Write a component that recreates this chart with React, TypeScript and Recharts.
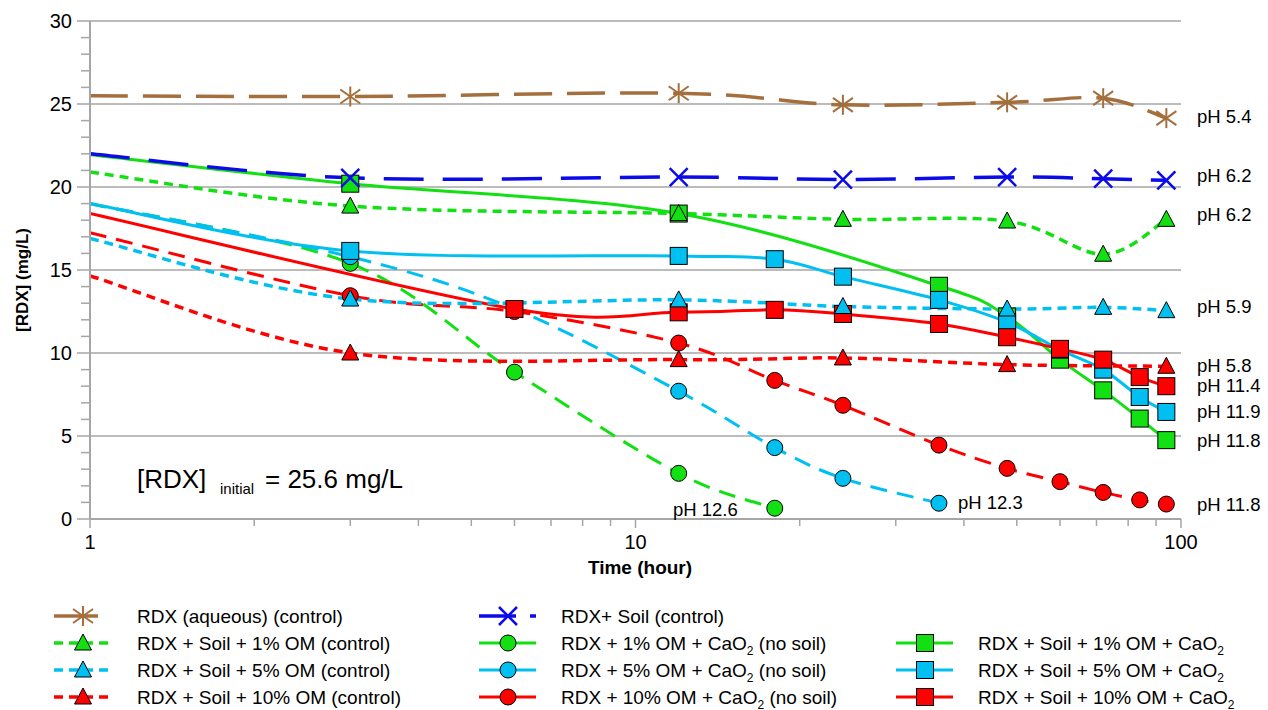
import React from "react";
import { LineChart, Line, XAxis, YAxis, CartesianGrid } from "recharts";

// time (hour) and [RDX] (mg/L) per treatment
const T_AQ = [1, 3, 12, 24, 48, 72, 94];
const RDX_AQ = [25.5, 25.45, 25.65, 24.95, 25.1, 25.35, 24.15];
const T_SOIL = [1, 3, 12, 24, 48, 72, 94];
const RDX_SOIL = [22.0, 20.55, 20.6, 20.45, 20.6, 20.5, 20.4];
const T_CTRL1 = [1, 3, 12, 24, 48, 72, 94];
const RDX_CTRL1 = [20.9, 18.85, 18.4, 18.05, 17.95, 15.95, 18.05];
const T_CTRL5 = [1, 3, 12, 24, 48, 72, 94];
const RDX_CTRL5 = [16.9, 13.25, 13.2, 12.8, 12.65, 12.75, 12.55];
const T_CTRL10 = [1, 3, 12, 24, 48, 94];
const RDX_CTRL10 = [14.65, 10.0, 9.6, 9.7, 9.3, 9.2];
const T_NS1 = [1, 3, 6, 12, 18];
const RDX_NS1 = [19.0, 15.4, 8.85, 2.75, 0.65];
const T_NS5 = [1, 3, 6, 12, 18, 24, 36];
const RDX_NS5 = [19.0, 15.8, 12.65, 7.7, 4.3, 2.45, 0.95];
const T_NS10 = [1, 3, 6, 12, 18, 24, 36, 48, 60, 72, 84, 94];
const RDX_NS10 = [17.25, 13.45, 12.5, 10.6, 8.35, 6.85, 4.45, 3.05, 2.25, 1.6, 1.15, 0.9];
const T_CA1 = [1, 3, 12, 36, 48, 60, 72, 84, 94];
const RDX_CA1 = [21.95, 20.2, 18.4, 14.05, 12.2, 9.6, 7.75, 6.05, 4.75];
const T_CA5 = [1, 3, 12, 18, 24, 36, 48, 60, 72, 84, 94];
const RDX_CA5 = [19.0, 16.15, 15.85, 15.65, 14.6, 13.2, 11.85, 10.2, 9.0, 7.35, 6.45];
const T_CA10 = [1, 6, 12, 18, 24, 36, 48, 60, 72, 84, 94];
const RDX_CA10 = [18.4, 12.65, 12.45, 12.6, 12.35, 11.75, 10.95, 10.25, 9.6, 8.55, 8.0];

const X_TICKS = [1, 2, 3, 4, 5, 6, 7, 8, 9, 10, 20, 30, 40, 50, 60, 70, 80, 90, 100];
const X_LABELS = [1, 10, 100];
const Y_TICKS = [0, 1, 2, 3, 4, 5, 6, 7, 8, 9, 10, 11, 12, 13, 14, 15, 16, 17, 18, 19, 20, 21, 22, 23, 24, 25, 26, 27, 28, 29, 30];
const Y_GRID = [5, 10, 15, 20, 25, 30];

const FONT = "'Liberation Sans', Arial, sans-serif";
const GRID = "#a6a6a6";
const BROWN = "#a46f3c";
const BLUE = "#0b0bea";
const GREEN = "#12e012";
const CYAN = "#00c0f2";
const RED = "#ff0000";

const zip = (t: number[], v: number[]) => t.map((x, i) => ({ t: x, y: v[i] }));

// Excel-like smoothed line (Catmull-Rom through the points)
const excelSmooth = (ctx: any) => {
  let pts: number[][] = [];
  return {
    areaStart() {},
    areaEnd() {},
    lineStart() {
      pts = [];
    },
    point(x: number, y: number) {
      pts.push([+x, +y]);
    },
    lineEnd() {
      const n = pts.length;
      if (!n) return;
      ctx.moveTo(pts[0][0], pts[0][1]);
      const k = 1 / 6;
      for (let i = 0; i < n - 1; i++) {
        const p0 = pts[i - 1] || pts[i];
        const p1 = pts[i];
        const p2 = pts[i + 1];
        const p3 = pts[i + 2] || p2;
        ctx.bezierCurveTo(
          p1[0] + (p2[0] - p0[0]) * k,
          p1[1] + (p2[1] - p0[1]) * k,
          p2[0] - (p3[0] - p1[0]) * k,
          p2[1] - (p3[1] - p1[1]) * k,
          p2[0],
          p2[1]
        );
      }
    },
  };
};

const Marker = ({ kind, cx, cy, color }: any) => {
  if (kind === "star")
    return (
      <g stroke={color} strokeWidth={2}>
        <line x1={cx} y1={cy - 10} x2={cx} y2={cy + 10} />
        <line x1={cx - 10} y1={cy - 7} x2={cx + 10} y2={cy + 7} />
        <line x1={cx - 10} y1={cy + 7} x2={cx + 10} y2={cy - 7} />
      </g>
    );
  if (kind === "x")
    return (
      <g stroke={color} strokeWidth={2.5}>
        <line x1={cx - 9} y1={cy - 9} x2={cx + 9} y2={cy + 9} />
        <line x1={cx - 9} y1={cy + 9} x2={cx + 9} y2={cy - 9} />
      </g>
    );
  if (kind === "tri")
    return (
      <polygon
        points={`${cx},${cy - 9} ${cx + 8.5},${cy + 7} ${cx - 8.5},${cy + 7}`}
        fill={color}
        stroke="#000"
        strokeWidth={1}
      />
    );
  if (kind === "circle") return <circle cx={cx} cy={cy} r={8} fill={color} stroke="#000" strokeWidth={1} />;
  return <rect x={cx - 8.5} y={cy - 8.5} width={17} height={17} fill={color} stroke="#000" strokeWidth={1} />;
};

const DOT = "9 6";
const MID = "17 10";

// drawing order follows the overlaps in the figure
const series = [
  { id: "ns1", t: T_NS1, v: RDX_NS1, color: GREEN, dash: MID, legDash: undefined, legLen: 57, w: 3, marker: "circle", label: "RDX + 1% OM + CaO2 (no soil)" },
  { id: "ns5", t: T_NS5, v: RDX_NS5, color: CYAN, dash: MID, legDash: undefined, legLen: 57, w: 3, marker: "circle", label: "RDX + 5% OM + CaO2 (no soil)" },
  { id: "ns10", t: T_NS10, v: RDX_NS10, color: RED, dash: MID, legDash: undefined, legLen: 57, w: 3, marker: "circle", label: "RDX + 10% OM + CaO2 (no soil)" },
  { id: "ca1", t: T_CA1, v: RDX_CA1, color: GREEN, dash: undefined, legDash: undefined, legLen: 57, w: 3, marker: "square", label: "RDX + Soil + 1% OM + CaO2" },
  { id: "ca5", t: T_CA5, v: RDX_CA5, color: CYAN, dash: undefined, legDash: undefined, legLen: 57, w: 3, marker: "square", label: "RDX + Soil + 5% OM + CaO2" },
  { id: "ca10", t: T_CA10, v: RDX_CA10, color: RED, dash: undefined, legDash: undefined, legLen: 57, w: 3, marker: "square", label: "RDX + Soil + 10% OM + CaO2" },
  { id: "c1", t: T_CTRL1, v: RDX_CTRL1, color: GREEN, dash: DOT, legDash: DOT, legLen: 57, w: 3.5, marker: "tri", label: "RDX + Soil + 1% OM (control)" },
  { id: "c5", t: T_CTRL5, v: RDX_CTRL5, color: CYAN, dash: DOT, legDash: DOT, legLen: 57, w: 3.5, marker: "tri", label: "RDX + Soil + 5% OM (control)" },
  { id: "c10", t: T_CTRL10, v: RDX_CTRL10, color: RED, dash: DOT, legDash: DOT, legLen: 57, w: 3.5, marker: "tri", label: "RDX + Soil + 10% OM (control)" },
  { id: "soil", t: T_SOIL, v: RDX_SOIL, color: BLUE, dash: "40 19", legDash: "37 14", legLen: 57, w: 3.5, marker: "x", label: "RDX+ Soil (control)" },
  { id: "aq", t: T_AQ, v: RDX_AQ, color: BROWN, dash: "38 15", legDash: undefined, legLen: 44, w: 3.5, marker: "star", label: "RDX (aqueous) (control)" },
];

// legend grid: [series id, column, row]
const LEGEND_SLOTS = [
  ["aq", 0, 0], ["soil", 1, 0],
  ["c1", 0, 1], ["ns1", 1, 1], ["ca1", 2, 1],
  ["c5", 0, 2], ["ns5", 1, 2], ["ca5", 2, 2],
  ["c10", 0, 3], ["ns10", 1, 3], ["ca10", 2, 3],
];
const LEG_ICON_X = [54, 479, 896];
const LEG_TEXT_X = [137, 561, 978];
const LEG_ROW_Y = [616, 643, 670, 697];

const PH_NOTES = [
  { text: "pH 5.4", x: 1197, y: 123 },
  { text: "pH 6.2", x: 1197, y: 182 },
  { text: "pH 6.2", x: 1197, y: 221 },
  { text: "pH 5.9", x: 1197, y: 313 },
  { text: "pH 5.8", x: 1197, y: 372 },
  { text: "pH 11.4", x: 1197, y: 392 },
  { text: "pH 11.9", x: 1197, y: 418 },
  { text: "pH 11.8", x: 1197, y: 447 },
  { text: "pH 11.8", x: 1197, y: 511 },
  { text: "pH 12.6", x: 673, y: 516 },
  { text: "pH 12.3", x: 958, y: 509 },
];

const CaoText = ({ x, y, label, size }: any) => {
  const parts = label.split("CaO2");
  return (
    <text x={x} y={y} fontSize={size} fontFamily={FONT} fill="#000" style={{ whiteSpace: "pre" }}>
      {parts[0]}
      {parts.length > 1 && (
        <>
          CaO
          <tspan fontSize={12} dy={5}>2</tspan>
          <tspan dy={-5}>{parts[1]}</tspan>
        </>
      )}
    </text>
  );
};

const YTick = ({ x, y, payload }: any) => {
  const v = payload.value;
  const major = v % 5 === 0;
  return (
    <g>
      <line x1={x - (major ? 13 : 9)} x2={x} y1={y} y2={y} stroke={GRID} strokeWidth={1.5} />
      {major && (
        <text x={x - 18} y={y + 7} textAnchor="end" fontSize={20} fontFamily={FONT} fill="#000">
          {v}
        </text>
      )}
    </g>
  );
};

const XTick = ({ x, y, payload }: any) => {
  const v = payload.value;
  const major = X_LABELS.includes(v);
  return (
    <g>
      <line x1={x} x2={x} y1={y} y2={y + (major ? 9 : 7)} stroke={GRID} strokeWidth={1.5} />
      {major && (
        <text x={x} y={y + 30} textAnchor="middle" fontSize={20} fontFamily={FONT} fill="#000">
          {v}
        </text>
      )}
    </g>
  );
};

const dotFor = (s: any) => (p: any) => {
  const { cx, cy, index } = p;
  if (index === 0 || cx == null || cy == null) return <g key={`${s.id}-${index}`} />;
  return <Marker key={`${s.id}-${index}`} kind={s.marker} cx={cx} cy={cy} color={s.color} />;
};

export default function App() {
  const byId: any = {};
  series.forEach((s) => (byId[s.id] = s));

  return (
    <div style={{ position: "absolute", left: 0, top: 0, width: 1268, height: 710, background: "#fff" }}>
      <LineChart width={1268} height={590} margin={{ top: 21, right: 87, bottom: 0, left: 0 }}>
        <CartesianGrid vertical={false} horizontalValues={Y_GRID} stroke={GRID} strokeWidth={1.3} />
        <XAxis
          dataKey="t"
          type="number"
          scale="log"
          domain={[1, 100]}
          ticks={X_TICKS}
          interval={0}
          height={71}
          tick={<XTick />}
          tickLine={false}
          tickSize={0}
          tickMargin={0}
          axisLine={{ stroke: GRID, strokeWidth: 2 }}
          allowDataOverflow
        />
        <YAxis
          type="number"
          domain={[0, 30]}
          ticks={Y_TICKS}
          interval={0}
          width={90}
          tick={<YTick />}
          tickLine={false}
          tickSize={0}
          tickMargin={0}
          axisLine={{ stroke: GRID, strokeWidth: 2 }}
        />
        {series.map((s) => (
          <Line
            key={s.id}
            data={zip(s.t, s.v)}
            dataKey="y"
            type={excelSmooth as any}
            stroke={s.color}
            strokeWidth={s.w}
            strokeDasharray={s.dash}
            dot={dotFor(s)}
            activeDot={false}
            isAnimationActive={false}
          />
        ))}
      </LineChart>

      <svg width={1268} height={710} style={{ position: "absolute", left: 0, top: 0, pointerEvents: "none" }}>
        <text
          transform="translate(28,280) rotate(-90)"
          textAnchor="middle"
          fontSize={17}
          fontWeight="bold"
          fontFamily={FONT}
        >
          [RDX] (mg/L)
        </text>
        <text x={640} y={574} textAnchor="middle" fontSize={19} fontWeight="bold" fontFamily={FONT}>
          Time (hour)
        </text>

        <text x={137} y={488} fontSize={26} fontFamily={FONT}>[RDX]</text>
        <text x={220} y={494} fontSize={15} fontFamily={FONT}>initial</text>
        <text x={265} y={488} fontSize={26} fontFamily={FONT}>= 25.6 mg/L</text>

        {PH_NOTES.map((n, i) => (
          <text key={i} x={n.x} y={n.y} fontSize={18.5} fontFamily={FONT}>
            {n.text}
          </text>
        ))}

        {LEGEND_SLOTS.map(([id, col, row]: any) => {
          const s = byId[id];
          const x0 = LEG_ICON_X[col];
          const cy = LEG_ROW_Y[row];
          return (
            <g key={id}>
              <line x1={x0} x2={x0 + s.legLen} y1={cy} y2={cy} stroke={s.color} strokeWidth={s.w} strokeDasharray={s.legDash} />
              <Marker kind={s.marker} cx={x0 + 29} cy={cy} color={s.color} />
              <CaoText x={LEG_TEXT_X[col]} y={cy + 6.5} label={s.label} size={19} />
            </g>
          );
        })}
      </svg>
    </div>
  );
}
